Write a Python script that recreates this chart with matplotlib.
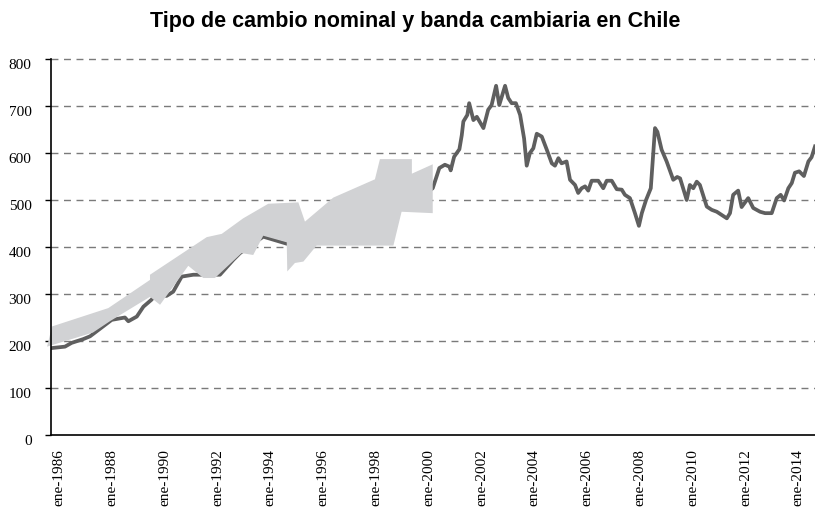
import numpy as np
import matplotlib.pyplot as plt
import matplotlib.transforms as mtransforms

# tipo de cambio nominal (pesos por dolar), fecha en anos fraccionales
tc_fecha = [1986.03, 1986.53, 1986.78, 1987.22, 1987.48, 1988.30, 1988.80, 1988.93,
            1989.25, 1989.50, 1989.81, 1989.94, 1990.38, 1990.63, 1990.95, 1991.39,
            1992.40, 1992.91, 1993.16, 1994.04, 1994.93, 1995.43, 1996.57, 1997.70,
            1998.84, 1999.41, 1999.98, 2000.46, 2000.71, 2000.92, 2001.09, 2001.14,
            2001.27, 2001.47, 2001.56, 2001.62, 2001.77, 2001.84, 2002.00, 2002.13,
            2002.38, 2002.56, 2002.69, 2002.86, 2002.98, 2003.20, 2003.32, 2003.45,
            2003.61, 2003.77, 2003.92, 2004.02, 2004.14, 2004.27, 2004.40, 2004.59,
            2004.78, 2004.97, 2005.09, 2005.22, 2005.34, 2005.53, 2005.66, 2005.85,
            2005.97, 2006.10, 2006.23, 2006.35, 2006.48, 2006.73, 2006.92, 2007.05,
            2007.24, 2007.43, 2007.62, 2007.74, 2007.93, 2008.12, 2008.27, 2008.38,
            2008.54, 2008.72, 2008.88, 2008.97, 2009.13, 2009.32, 2009.57, 2009.72,
            2009.83, 2010.08, 2010.20, 2010.33, 2010.46, 2010.58, 2010.84, 2011.03,
            2011.22, 2011.41, 2011.60, 2011.72, 2011.84, 2012.03, 2012.16, 2012.41,
            2012.60, 2012.86, 2013.05, 2013.30, 2013.49, 2013.64, 2013.77, 2013.93,
            2014.06, 2014.18, 2014.34, 2014.52, 2014.69, 2014.81, 2014.94]
tc_valor = [185, 188, 196, 204, 210, 245, 250, 242,
            252, 273, 288, 298, 296, 305, 337, 341,
            341, 373, 387, 422, 407, 408, 412, 418,
            460, 490, 505, 525, 568, 575, 571, 563,
            592, 608, 638, 667, 681, 706, 670, 677,
            653, 692, 702, 743, 702, 743, 717, 706,
            706, 681, 631, 573, 600, 610, 641, 635,
            607, 578, 573, 589, 578, 582, 543, 532,
            515, 525, 529, 520, 541, 541, 525, 541,
            541, 523, 522, 511, 504, 472, 445, 472,
            500, 525, 653, 645, 607, 582, 543, 549,
            546, 500, 532, 525, 539, 532, 486, 479,
            475, 468, 461, 472, 511, 520, 485, 504,
            483, 475, 472, 472, 504, 511, 499, 525,
            536, 558, 561, 551, 582, 591, 614]

# banda cambiaria: limite superior e inferior
banda_sup_fecha = [1985.85, 1986.04, 1988.17, 1989.75, 1989.75, 1991.90, 1992.47, 1993.28,
                   1994.23, 1995.37, 1995.62, 1996.69, 1998.27, 1998.46, 1999.67, 1999.67,
                   2000.46]
banda_sup = [188, 231, 270, 330, 341, 421, 428, 461,
             492, 495, 454, 505, 544, 587, 587, 556,
             576]
banda_inf_fecha = [1985.85, 1987.59, 1988.23, 1989.75, 1990.13, 1991.20, 1991.77, 1992.21,
                   1993.22, 1993.66, 1994.04, 1994.93, 1994.95, 1995.24, 1995.56, 1996.06,
                   1998.97, 1999.28, 2000.46]
banda_inf = [188, 218, 242, 294, 277, 360, 334, 334,
             387, 383, 424, 410, 348, 366, 369, 403,
             403, 475, 472]

anios = list(range(1986, 2015, 2))
etiquetas = ['ene-%d' % a for a in anios]
y_ticks = [0, 100, 200, 300, 400, 500, 600, 700, 800]

fig = plt.figure(figsize=(8.15, 5.07), dpi=100)
ax = fig.add_axes([51 / 815, 1 - 435 / 507, 1 - 51 / 815, (435 - 59) / 507])

# linea del tipo de cambio (queda debajo de la banda)
ax.plot(tc_fecha, tc_valor, color='#5f5f5f', linewidth=2.7, zorder=2,
        solid_joinstyle='round')

# banda como poligono
bx = np.concatenate([banda_sup_fecha, banda_inf_fecha[::-1]])
by = np.concatenate([banda_sup, banda_inf[::-1]])
ax.fill(bx, by, color='#d1d2d4', linewidth=0, zorder=3, clip_on=False)

ax.set_xlim(1986.0, 2014.94)
ax.set_ylim(0, 800)

# grilla punteada
ax.set_yticks(y_ticks)
for v in y_ticks[1:]:
    ax.axhline(v, color='#7a7a7a', linewidth=1.0, dashes=(5, 4), zorder=1,
               clip_on=False)

ax.set_xticks(anios)
ax.set_xticklabels(etiquetas, rotation=90, family='Liberation Serif', fontsize=11)
ax.set_yticklabels([str(v) for v in y_ticks], family='Liberation Serif', fontsize=11)
ax.tick_params(axis='x', length=0, pad=10)
ax.tick_params(axis='y', length=4, width=1, pad=10, direction='out')

# mover las etiquetas como en el original
off_x = mtransforms.ScaledTranslation(8 / 100, 0, fig.dpi_scale_trans)
for lab in ax.get_xticklabels():
    lab.set_transform(lab.get_transform() + off_x)
off_y = mtransforms.ScaledTranslation(0, -5 / 100, fig.dpi_scale_trans)
for lab in ax.get_yticklabels():
    lab.set_transform(lab.get_transform() + off_y)

for s in ['top', 'right']:
    ax.spines[s].set_visible(False)
ax.spines['left'].set_linewidth(1.2)
ax.spines['bottom'].set_linewidth(1.2)
ax.spines['left'].set_zorder(4)

fig.text(0.51, 1 - 21 / 507, 'Tipo de cambio nominal y banda cambiaria en Chile',
         ha='center', va='center', fontsize=15.5, fontweight='bold',
         family='Liberation Sans')

fig.savefig('out.png', dpi=100)
